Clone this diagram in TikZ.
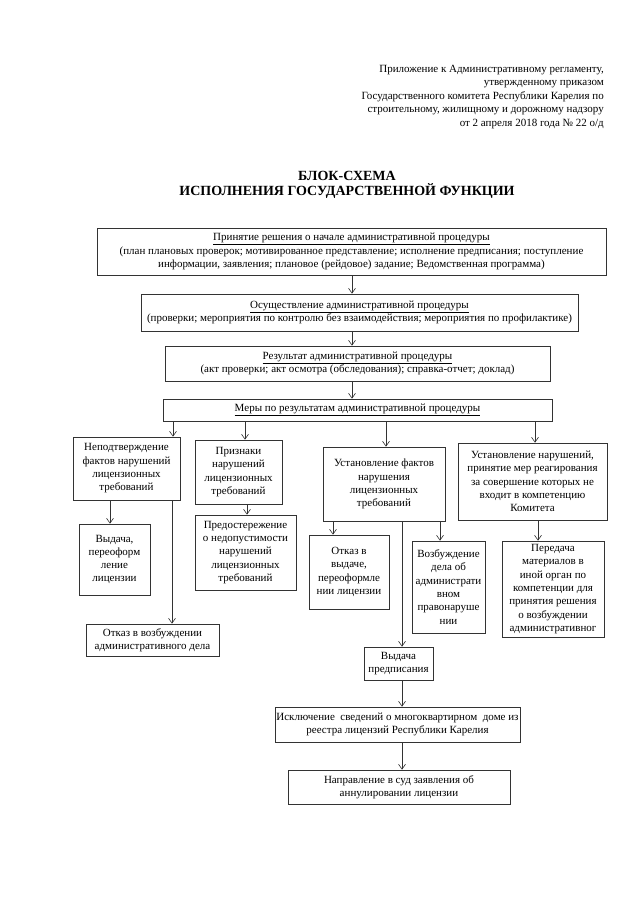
\documentclass[tikz,border=0pt]{standalone}
\usepackage{fontspec}
\setmainfont{Liberation Serif}
\usetikzlibrary{arrows.meta}
\newcommand\boxat[6]{\node[box,minimum width={(#4-#2)*1pt},minimum height={(#5-#3)*1pt}] (#1) at ({(#2+#4)/2},{(#3+#5)/2}) {#6};}
\begin{document}
\begin{tikzpicture}[x=1pt,y=-1pt,
  box/.style={draw=black!80, line width=0.6pt, align=center, inner sep=1pt,
    font=\fontsize{11}{13.3}\selectfont},
  arr/.style={draw=black!80, line width=0.6pt, -{Straight Barb[length=5pt,width=7pt]}}]
\useasboundingbox (0,0) rectangle (639,905);
\fill[white] (0,0) rectangle (639,905);

\node[anchor=north east, align=right, inner sep=0pt, font=\fontsize{11}{13.5}\selectfont] (hdr) at (604,65)
  {Приложение к Административному регламенту,\\
   утвержденному приказом\\
   Государственного комитета Республики Карелия по\\
   строительному, жилищному и дорожному надзору\\
   от 2 апреля 2018 года № 22 о/д};

\node[align=center, inner sep=0pt, font=\bfseries\fontsize{14}{15}\selectfont] (title) at (347,185)
  {БЛОК-СХЕМА\\ИСПОЛНЕНИЯ ГОСУДАРСТВЕННОЙ ФУНКЦИИ};

\boxat{b1}{97}{228}{606}{275}{\underline{Принятие решения о начале административной процедуры}\\
  (план плановых проверок; мотивированное представление; исполнение предписания; поступление\\
  информации, заявления; плановое (рейдовое) задание; Ведомственная программа)}
\boxat{b2}{141}{294}{578}{331}{\underline{Осуществление административной процедуры}\\
  (проверки; мероприятия по контролю без взаимодействия; мероприятия по профилактике)}
\boxat{b3}{165}{346}{550}{381}{\underline{Результат административной процедуры}\\
  (акт проверки; акт осмотра (обследования); справка-отчет; доклад)}
\boxat{b4}{163}{399}{552}{421}{\underline{Меры по результатам административной процедуры}}

\boxat{A}{73}{437}{180}{500}{Неподтверждение\\фактов нарушений\\лицензионных\\требований}
\boxat{B}{195}{440}{282}{504}{Признаки\\нарушений\\лицензионных\\требований}
\boxat{C}{323}{447}{445}{521}{Установление фактов\\нарушения\\лицензионных\\требований}
\boxat{D}{458}{443}{607}{520}{Установление нарушений,\\принятие мер реагирования\\за совершение которых не\\входит в компетенцию\\Комитета}

\boxat{A1}{79}{524}{150}{595}{Выдача,\\переоформ\\ление\\лицензии}
\boxat{B1}{195}{515}{296}{590}{Предостережение\\о недопустимости\\нарушений\\лицензионных\\требований}
\boxat{C1}{309}{535}{389}{609}{Отказ в\\выдаче,\\переоформле\\нии лицензии}
\boxat{C2}{412}{541}{485}{633}{Возбуждение\\дела об\\администрати\\вном\\правонаруше\\нии}
\boxat{D1}{502}{541}{604}{637}{Передача\\материалов в\\иной орган по\\компетенции для\\принятия решения\\о возбуждении\\административног}
\boxat{A2}{86}{624}{219}{656}{Отказ в возбуждении\\административного дела}
\boxat{E}{364}{647}{433}{680}{Выдача\\предписания}
\boxat{F}{275}{707}{520}{742}{Исключение~ сведений о многоквартирном~ доме из\\реестра лицензий Республики Карелия}
\boxat{G}{288}{770}{510}{804}{Направление в суд заявления об\\аннулировании лицензии}

\coordinate (xm) at (352,0);
\coordinate (xa) at (173,0);
\coordinate (xb) at (245,0);
\coordinate (xc) at (386,0);
\coordinate (xd) at (535,0);
\coordinate (xa1) at (110,0);
\coordinate (xa2) at (172,0);
\coordinate (xb1) at (247,0);
\coordinate (xc1) at (333,0);
\coordinate (xe) at (402,0);
\coordinate (xc2) at (440,0);
\coordinate (xd1) at (538,0);

\draw[arr] (b1.south -| xm) -- (b2.north -| xm);
\draw[arr] (b2.south -| xm) -- (b3.north -| xm);
\draw[arr] (b3.south -| xm) -- (b4.north -| xm);
\draw[arr] (b4.south -| xa) -- (A.north -| xa);
\draw[arr] (b4.south -| xb) -- (B.north -| xb);
\draw[arr] (b4.south -| xc) -- (C.north -| xc);
\draw[arr] (b4.south -| xd) -- (D.north -| xd);
\draw[arr] (A.south -| xa1) -- (A1.north -| xa1);
\draw[arr] (A.south -| xa2) -- (A2.north -| xa2);
\draw[arr] (B.south -| xb1) -- (B1.north -| xb1);
\draw[arr] (C.south -| xc1) -- (C1.north -| xc1);
\draw[arr] (C.south -| xe) -- (E.north -| xe);
\draw[arr] (C.south -| xc2) -- (C2.north -| xc2);
\draw[arr] (D.south -| xd1) -- (D1.north -| xd1);
\draw[arr] (E.south -| xe) -- (F.north -| xe);
\draw[arr] (F.south -| xe) -- (G.north -| xe);
\end{tikzpicture}
\end{document}
